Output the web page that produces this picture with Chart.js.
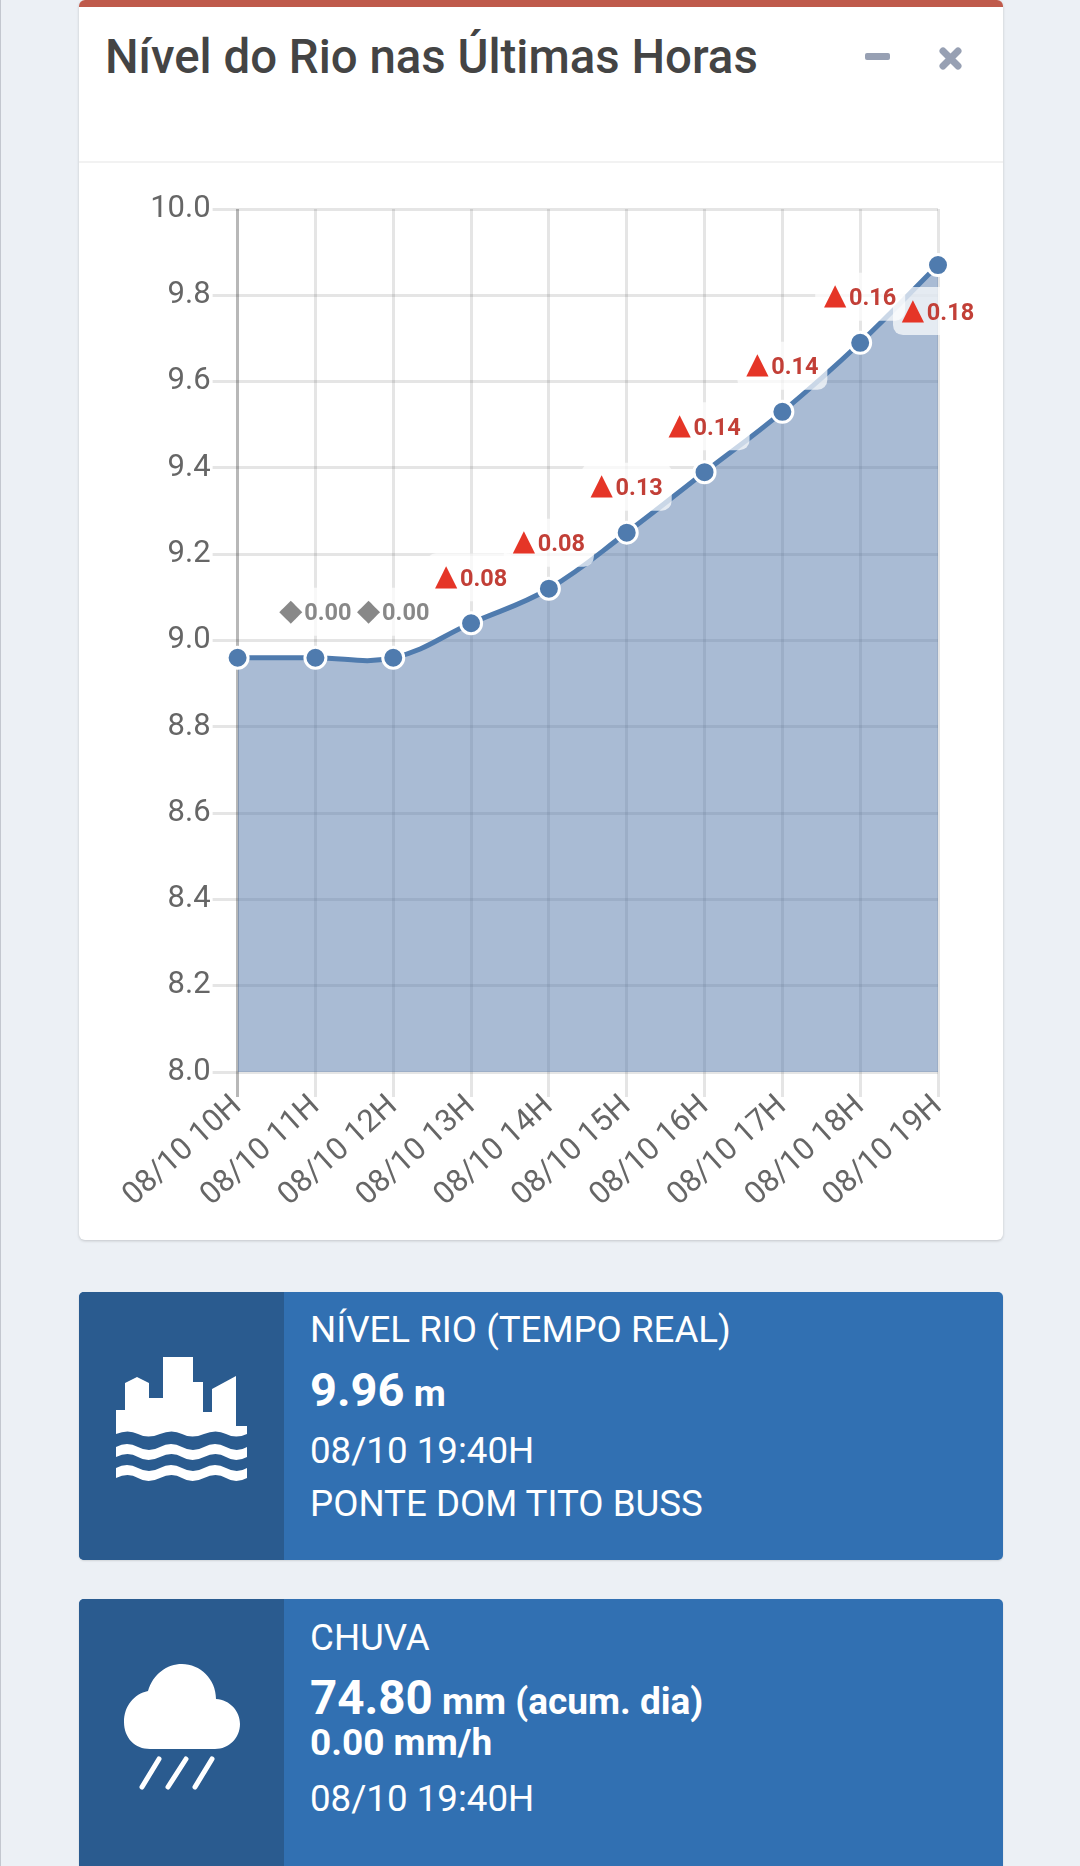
<!DOCTYPE html>
<html lang="pt">
<head>
<meta charset="utf-8">
<title>Nível do Rio</title>
<script src="https://cdn.jsdelivr.net/npm/chart.js@4/dist/chart.umd.min.js"></script>
<style>
  html, body { margin: 0; padding: 0; width: 1080px; height: 1866px; overflow: hidden; background: #ecf0f5; font-family: Roboto, sans-serif; }
  body { border-left: 1px solid #c3c7cf; box-sizing: border-box; }
  .card { position: absolute; left: 79px; top: 0; width: 924px; height: 1240px; background: #fff; border-radius: 6px; box-shadow: 0 1px 3px rgba(0,0,0,.18); overflow: hidden; }
  .card .bar { height: 7px; background: #bf5a4b; }
  .card h3 { position: absolute; left: 26px; top: 29px; margin: 0; font-size: 47.4px; line-height: 56px; font-weight: 500; color: #444; white-space: nowrap; }
  .card .rule { position: absolute; left: 0; right: 0; top: 161px; height: 2px; background: #f2f2f2; }
  .card svg { position: absolute; left: 0; top: 0; }
  #chartWrap { position: absolute; left: 0; top: 163px; width: 924px; height: 1076px; }
  .box { position: absolute; left: 79px; width: 924px; background: #3170b2; border-radius: 5px; color: #fff; overflow: hidden; box-shadow: 0 1px 2px rgba(0,0,0,.12); }
  .box .icon { position: absolute; left: 0; top: 0; bottom: 0; width: 205px; background: #2a5b8f; }
  .box svg { position: absolute; }
  .box div.t { position: absolute; left: 231px; white-space: nowrap; font-size: 36.7px; line-height: 40px; }
  .box b { font-weight: 700; }
</style>
</head>
<body>
<div class="card">
  <div class="bar"></div>
  <h3>Nível do Rio nas Últimas Horas</h3>
  <svg width="924" height="100">
    <rect x="786" y="53" width="25" height="7" rx="2" fill="#97a0b3"/>
    <path d="M864 51L879 66M879 51L864 66" stroke="#97a0b3" stroke-width="7" stroke-linecap="round"/>
  </svg>
  <div class="rule"></div>
  <div id="chartWrap"><canvas id="levelChart" width="924" height="1076"></canvas></div>
</div>

<div class="box" style="top:1292px;height:268px">
  <div class="icon">
    <svg style="left:37px;top:65px" width="131" height="124" viewBox="0 0 131 124" fill="#fff">
      <path d="M0 53H9V26L21 20L33 26V41H47V0H77V25H87V55H96V32L120 19V69H131V77Q120 82 110 77T88 77T66 77T44 77T22 77T0 77Z"/>
      <path d="M0 90Q11 84 22 90T44 90T66 90T88 90T110 90T131 90V100Q120 106 110 100T88 100T66 100T44 100T22 100T0 100Z"/>
      <path d="M0 111Q11 105 22 111T44 111T66 111T88 111T110 111T131 111V121Q120 127 110 121T88 121T66 121T44 121T22 121T0 121Z"/>
    </svg>
  </div>
  <div class="t" style="top:18px">NÍVEL RIO (TEMPO REAL)</div>
  <div class="t" style="top:78px"><b style="font-size:47px">9.96</b> <b style="font-size:37px">m</b></div>
  <div class="t" style="top:139px">08/10 19:40H</div>
  <div class="t" style="top:192px">PONTE DOM TITO BUSS</div>
</div>

<div class="box" style="top:1599px;height:267px;border-radius:5px 5px 0 0">
  <div class="icon">
    <svg style="left:45px;top:65px" width="118" height="126" viewBox="0 0 118 126" fill="#fff">
      <path d="M26 85C11 85 0 74 0 58C0 42 10 30 24 27C29 10 43 0 58 0C76 0 92 15 92 35C106 36 116 47 116 60C116 74 105 85 91 85Z"/>
      <path d="M18 123L35 95M44 123L62 95M71 123L88 95" stroke="#fff" stroke-width="5" stroke-linecap="round" fill="none"/>
    </svg>
  </div>
  <div class="t" style="top:19px">CHUVA</div>
  <div class="t" style="top:79px"><b style="font-size:47.5px">74.80</b> <b style="font-size:37px">mm (acum. dia)</b></div>
  <div class="t" style="top:124px"><b style="font-size:37px">0.00 mm/h</b></div>
  <div class="t" style="top:180px">08/10 19:40H</div>
</div>

<script>
const hours = ['08/10 10H', '08/10 11H', '08/10 12H', '08/10 13H', '08/10 14H', '08/10 15H', '08/10 16H', '08/10 17H', '08/10 18H', '08/10 19H'];
const levels = [8.96, 8.96, 8.96, 9.04, 9.12, 9.25, 9.39, 9.53, 9.69, 9.87];
const deltas = [null, 0.00, 0.00, 0.08, 0.08, 0.13, 0.14, 0.14, 0.16, 0.18];

// last point has no room above, the badge goes under it
function badgeY(pt, i) {
  return i === deltas.length - 1 ? pt.y + 46 : pt.y - 46;
}

// level change badges, same idea as a datalabels plugin
const deltaLabels = {
  id: 'deltaLabels',
  afterDatasetsDraw(chart) {
    const ctx = chart.ctx;
    const points = chart.getDatasetMeta(0).data;
    ctx.save();

    // boxes first so a neighbour's box never covers the text
    ctx.fillStyle = 'rgba(255,255,255,0.7)';
    points.forEach((pt, i) => {
      if (deltas[i] === null) return;
      ctx.beginPath();
      ctx.roundRect(pt.x - 45, badgeY(pt, i) - 24, 90, 48, 10);
      ctx.fill();
    });

    ctx.textBaseline = 'alphabetic';
    ctx.textAlign = 'left';
    points.forEach((pt, i) => {
      const d = deltas[i];
      if (d === null) return;
      const up = d > 0;
      const cy = badgeY(pt, i);
      const num = d.toFixed(2);
      const glyph = up ? '▲' : '◆';
      const glyphFont = (up ? 29 : 30) + 'px "DejaVu Sans"';
      ctx.font = glyphFont;
      const g = ctx.measureText(glyph);
      const gw = g.actualBoundingBoxRight + g.actualBoundingBoxLeft;
      const gh = g.actualBoundingBoxAscent + g.actualBoundingBoxDescent;
      ctx.font = 'bold 23.5px Roboto';
      const w = ctx.measureText(num).width;
      const left = pt.x - (gw + 2 + w) / 2;

      ctx.font = glyphFont;
      ctx.fillStyle = up ? '#e53527' : '#888';
      ctx.fillText(glyph, left + g.actualBoundingBoxLeft, cy + gh / 2 - g.actualBoundingBoxDescent);
      ctx.font = 'bold 23.5px Roboto';
      ctx.fillStyle = up ? '#c23f37' : '#888';
      ctx.fillText(num, left + gw + 2, cy + 8.5);
    });
    ctx.restore();
  }
};

new Chart(document.getElementById('levelChart'), {
  type: 'line',
  data: {
    labels: hours,
    datasets: [{
      data: levels,
      borderColor: '#4f7bae',
      borderWidth: 5,
      backgroundColor: 'rgba(83,120,170,0.5)',
      fill: 'start',
      tension: 0.4,
      pointRadius: 10.5,
      pointBackgroundColor: '#4f7bae',
      pointBorderColor: '#fff',
      pointBorderWidth: 3,
      clip: false
    }]
  },
  options: {
    responsive: false,
    animation: false,
    devicePixelRatio: 1,
    layout: { padding: { top: 46, right: 65, left: 0, bottom: 0 } },
    plugins: { legend: { display: false }, tooltip: { enabled: false } },
    scales: {
      x: {
        offset: false,
        afterFit(scale) { scale.height = 167; },
        border: { display: false },
        grid: {
          lineWidth: 3,
          tickLength: 25,
          color: ctx => ctx.index === 0 ? 'rgba(0,0,0,0.28)' : 'rgba(0,0,0,0.1)'
        },
        ticks: { minRotation: 42, maxRotation: 42, padding: -9, autoSkip: false, color: '#666', font: { family: 'Roboto', size: 31 } }
      },
      y: {
        min: 8,
        max: 10,
        afterFit(scale) { scale.width = 158.6; },
        border: { display: false },
        grid: { lineWidth: 3, tickLength: 25, color: 'rgba(0,0,0,0.1)' },
        ticks: { stepSize: 0.2, padding: 2, color: '#666', font: { family: 'Roboto', size: 31 }, callback: v => v.toFixed(1) }
      }
    }
  },
  plugins: [deltaLabels]
});
</script>
</body>
</html>
